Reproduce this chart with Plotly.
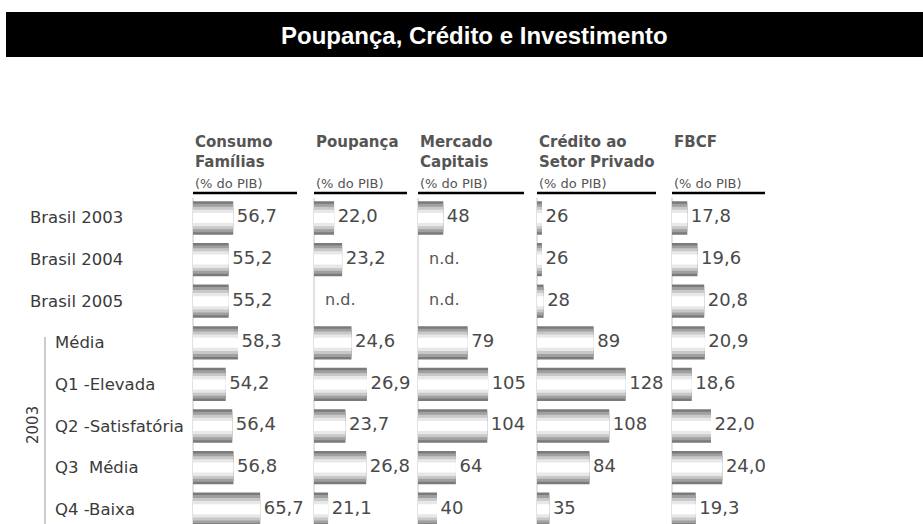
import plotly.graph_objects as go

# ---------------- data ----------------
rows = ["Brasil 2003", "Brasil 2004", "Brasil 2005", "Média", "Q1 -Elevada",
        "Q2 -Satisfatória", "Q3\u00a0\u00a0Média", "Q4 -Baixa"]
group_rows = ["Média", "Q1 -Elevada", "Q2 -Satisfatória", "Q3\u00a0\u00a0Média", "Q4 -Baixa"]
group_label = "2003"
title = "Poupança, Crédito e Investimento"
col_head1 = ["Consumo", "Poupança", "Mercado", "Crédito ao", "FBCF"]
col_head2 = ["Famílias", "", "Capitais", "Setor Privado", ""]
unit_label = "(% do PIB)"
consumo = [56.7, 55.2, 55.2, 58.3, 54.2, 56.4, 56.8, 65.7]
poupanca = [22.0, 23.2, None, 24.6, 26.9, 23.7, 26.8, 21.1]
mercado = [48, None, None, 79, 105, 104, 64, 40]
credito = [26, 26, 28, 89, 128, 108, 84, 35]
fbcf = [17.8, 19.6, 20.8, 20.9, 18.6, 22.0, 24.0, 19.3]
series = [consumo, poupanca, mercado, credito, fbcf]
decimals = [1, 1, 0, 0, 1]
missing_label = "n.d."

# ---------------- layout helpers ----------------
W, H = 923, 524
col_px = [(193, 297), (314, 407), (418, 524), (537, 656), (672, 765)]
x_ranges = [(43.3, 78.0), (19.0, 32.9), (15.8, 150.8), (20.0, 165.0), (15.1, 31.56)]
FONT = "DejaVu Sans"

def py(px):
    return 1 - px / H

def fmt(v, d):
    return "\u2009" + f"{v:.{d}f}".replace(".", ",")

fig = go.Figure()
layers = [(0.80, "#7a7a7a"), (0.68, "#a0a0a0"), (0.54, "#c8c8c8"),
          (0.40, "#e8e8e8"), (0.24, "#ffffff")]

for i, vals in enumerate(series):
    ax = "x" if i == 0 else f"x{i+1}"
    ys = [r for r, v in zip(rows, vals) if v is not None]
    xs = [v for v in vals if v is not None]
    for w, c in layers:
        fig.add_trace(go.Bar(y=ys, x=xs, orientation="h", width=w, marker_color=c,
                             marker_line_width=0, xaxis=ax, yaxis="y", hoverinfo="skip"))
    fig.add_trace(go.Scatter(y=ys, x=xs, mode="text", text=[fmt(v, decimals[i]) for v in xs],
                             textposition="middle right", xaxis=ax, yaxis="y", cliponaxis=False,
                             textfont=dict(family=FONT, size=18, color="#4a4a4a"), hoverinfo="skip"))
    nd = [r for r, v in zip(rows, vals) if v is None]
    if nd:
        lo, hi = x_ranges[i]
        ppu = (col_px[i][1] - col_px[i][0]) / (hi - lo)
        fig.add_trace(go.Scatter(y=nd, x=[lo + 11 / ppu] * len(nd), mode="text",
                                 text=[missing_label] * len(nd), textposition="middle right",
                                 xaxis=ax, yaxis="y", cliponaxis=False,
                                 textfont=dict(family=FONT, size=16, color="#555555"),
                                 hoverinfo="skip"))

row_px0 = 218.0
row_step = 41.6
y_top_px = row_px0 - row_step / 2
y_bottom_val = (H - row_px0) / row_step

layout = dict(width=W, height=H, margin=dict(l=0, r=0, t=0, b=0),
              paper_bgcolor="white", plot_bgcolor="white", showlegend=False,
              barmode="overlay",
              yaxis=dict(domain=[0, py(y_top_px)], range=[y_bottom_val, -0.5], visible=False,
                         type="category", categoryorder="array", categoryarray=rows, anchor="x"))
for i in range(5):
    key = "xaxis" if i == 0 else f"xaxis{i+1}"
    layout[key] = dict(domain=[col_px[i][0] / W, col_px[i][1] / W], range=list(x_ranges[i]),
                       visible=False, anchor="y")
fig.update_layout(**layout)

shapes = []
annotations = []
# title bar
shapes.append(dict(type="rect", xref="paper", yref="paper", x0=6 / W, x1=1, y0=py(57), y1=py(12),
                   fillcolor="black", line_width=0, layer="below"))
annotations.append(dict(text="<b>" + title + "</b>", xref="paper", yref="paper", x=474 / W, y=py(35),
                        showarrow=False, xanchor="center", yanchor="middle",
                        font=dict(family="Liberation Sans, Arial, sans-serif",
                                  size=24, color="white")))
for i in range(5):
    xd = ("x" if i == 0 else f"x{i+1}") + " domain"
    shapes.append(dict(type="line", xref=xd, yref="paper", x0=0, x1=1, y0=py(193), y1=py(193),
                       line=dict(color="black", width=2.5)))
    shapes.append(dict(type="line", xref=xd, yref="paper", x0=0, x1=0, y0=py(198), y1=0,
                       line=dict(color="#e2e2e2", width=2), layer="below"))
    annotations.append(dict(text="<b>" + col_head1[i] + "</b>", xref=xd, yref="paper", x=0, y=py(142),
                            xanchor="left", yanchor="middle", showarrow=False,
                            font=dict(family=FONT, size=15, color="#555555")))
    if col_head2[i]:
        annotations.append(dict(text="<b>" + col_head2[i] + "</b>", xref=xd, yref="paper", x=0,
                                y=py(162), xanchor="left", yanchor="middle", showarrow=False,
                                font=dict(family=FONT, size=15, color="#555555")))
    annotations.append(dict(text=unit_label, xref=xd, yref="paper", x=0, y=py(184),
                            xanchor="left", yanchor="middle", showarrow=False,
                            font=dict(family=FONT, size=13, color="#555555")))

for r in rows:
    xpx = 53 if r in group_rows else 28
    annotations.append(dict(text=r, xref="paper", yref="y", x=xpx / W, y=r, xanchor="left",
                            yanchor="middle", showarrow=False,
                            font=dict(family=FONT, size=16.5, color="#3a3a3a")))
shapes.append(dict(type="line", xref="paper", yref="paper", x0=45 / W, x1=45 / W, y0=py(337), y1=0,
                   line=dict(color="#cccccc", width=2)))
annotations.append(dict(text=group_label, xref="paper", yref="paper", x=33 / W, y=py(425),
                        textangle=-90, showarrow=False, xanchor="center", yanchor="middle",
                        font=dict(family=FONT, size=15, color="#3a3a3a")))
fig.update_layout(shapes=shapes, annotations=annotations)

fig.write_html("out.html", config={"displayModeBar": False},
               post_script="document.body.style.margin='0';document.body.style.overflow='hidden';")
